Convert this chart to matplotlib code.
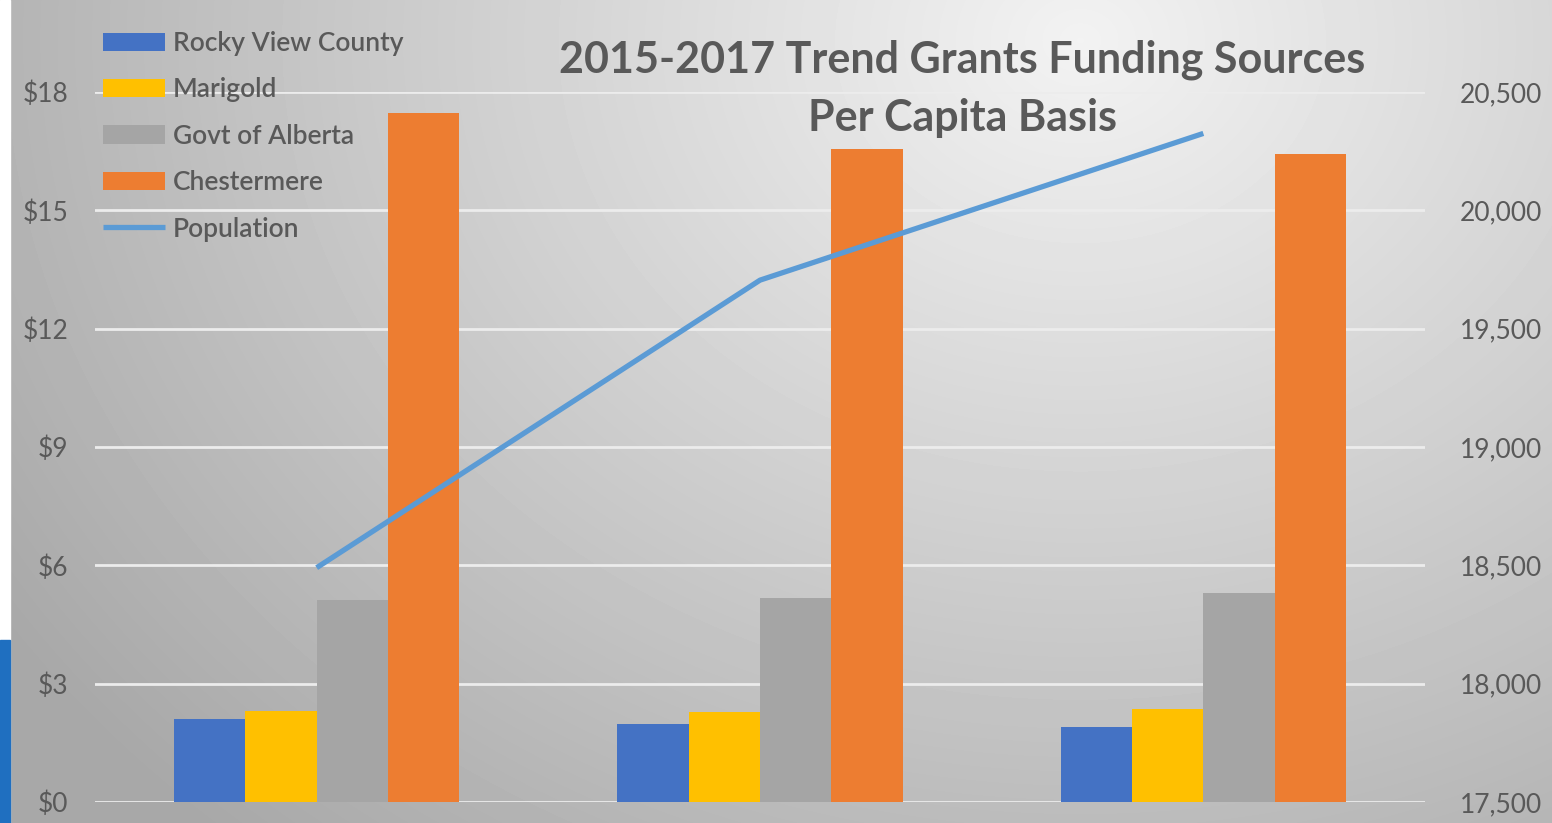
import numpy as np
import matplotlib.pyplot as plt
from matplotlib.patches import Rectangle

# data
years = ['2015', '2016', '2017']
rocky_view = [2.10, 1.98, 1.90]
marigold = [2.31, 2.28, 2.36]
govt_alberta = [5.12, 5.17, 5.30]
chestermere = [17.47, 16.56, 16.43]
population = [18490, 19705, 20325]

left_ticks = [0, 3, 6, 9, 12, 15, 18]
right_ticks = [17500, 18000, 18500, 19000, 19500, 20000, 20500]

txt = '#595959'
plt.rcParams['font.family'] = ['Lato', 'DejaVu Sans']

fig = plt.figure(figsize=(15.52, 8.23), dpi=100)

# gray radial background
bg = fig.add_axes([0, 0, 1, 1], zorder=-10)
W, H = 1552, 823
xx, yy = np.meshgrid(np.arange(W), np.arange(H))
d = np.sqrt(((xx - 1080) / 1150.0) ** 2 + ((yy - 40) / 950.0) ** 2)
shade = np.clip(0.95 - 0.26 * d, 0.66, 0.95)
bg.imshow(shade, cmap='gray', vmin=0, vmax=1, aspect='auto', extent=[0, W, H, 0])
bg.add_patch(Rectangle((0, 0), 10, H, color='white'))
bg.add_patch(Rectangle((0, 640), 10, H - 640, color='#1f6fc0'))
bg.set_xlim(0, W)
bg.set_ylim(H, 0)
bg.axis('off')

ax = fig.add_axes([95 / W, 21 / H, 1330 / W, 710 / H])
ax.patch.set_alpha(0)
x = np.arange(len(years))
w = 0.161
ax.bar(x - 1.5 * w, rocky_view, w, color='#4472c4', label='Rocky View County', zorder=3)
ax.bar(x - 0.5 * w, marigold, w, color='#ffc000', label='Marigold', zorder=3)
ax.bar(x + 0.5 * w, govt_alberta, w, color='#a5a5a5', label='Govt of Alberta', zorder=3)
ax.bar(x + 1.5 * w, chestermere, w, color='#ed7d31', label='Chestermere', zorder=3)
ax.set_xlim(-0.5, 2.5)
ax.set_ylim(0, 18)
ax.set_yticks(left_ticks)
ax.set_yticklabels(['$' + str(t) for t in left_ticks])
ax.set_xticks([])
ax.grid(axis='y', color='#ececec', linewidth=2, zorder=0)
ax.tick_params(axis='y', length=0, pad=19, labelsize=19, labelcolor=txt)
for s in ax.spines.values():
    s.set_visible(False)

ax2 = ax.twinx()
ax2.plot(x, population, color='#5b9bd5', linewidth=3.8, label='Population',
         solid_capstyle='butt', zorder=4)
ax2.set_ylim(17500, 20500)
ax2.set_yticks(right_ticks)
ax2.set_yticklabels(['{:,}'.format(t) for t in right_ticks])
ax2.tick_params(axis='y', length=0, pad=25, labelsize=19, labelcolor=txt)
for s in ax2.spines.values():
    s.set_visible(False)

h1, l1 = ax.get_legend_handles_labels()
h2, l2 = ax2.get_legend_handles_labels()
leg = fig.legend(h1 + h2, l1 + l2, loc='upper left', bbox_to_anchor=(103 / W, 1 - 31 / H),
                 frameon=False, fontsize=19, labelcolor=txt, borderpad=0, borderaxespad=0,
                 handlelength=2.35, handletextpad=0.3, labelspacing=0.81)
for t in leg.get_texts():
    t.set_fontweight('semibold')

fig.text(962 / W, 1 - 60 / H, '2015-2017 Trend Grants Funding Sources', ha='center',
         va='center', fontsize=31, fontweight='bold', color=txt)
fig.text(962 / W, 1 - 118 / H, 'Per Capita Basis', ha='center', va='center',
         fontsize=31, fontweight='bold', color=txt)

fig.savefig('out.png', dpi=100)
